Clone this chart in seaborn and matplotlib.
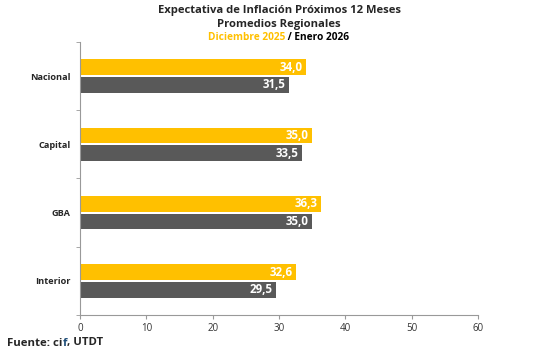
import matplotlib
matplotlib.use("Agg")
import matplotlib.pyplot as plt
import pandas as pd
import seaborn as sns

regiones = ["Nacional", "Capital", "GBA", "Interior"]
dic_2025 = [34.0, 35.0, 36.3, 32.6]
ene_2026 = [31.5, 33.5, 35.0, 29.5]
periodos = ["Diciembre 2025", "Enero 2026"]
xticks = [0, 10, 20, 30, 40, 50, 60]

df = pd.DataFrame({
    "region": regiones * 2,
    "valor": dic_2025 + ene_2026,
    "periodo": [periodos[0]] * 4 + [periodos[1]] * 4,
})

sns.set_style("white")
plt.rcParams["font.family"] = ["Open Sans", "DejaVu Sans"]

fig = plt.figure(figsize=(5.43, 3.54), dpi=100)
ax = fig.add_axes([80 / 543, 1 - 315 / 354, 398 / 543, 273 / 354])

sns.barplot(data=df, y="region", x="valor", hue="periodo", orient="h",
            palette=["#FFC000", "#595959"], saturation=1, width=0.52, gap=0.12,
            linewidth=0, legend=False, ax=ax)

for cont in ax.containers:
    for bar in cont:
        w = bar.get_width()
        ax.text(w - 0.5, bar.get_y() + bar.get_height() / 2,
                f"{w:.1f}".replace(".", ","), color="white", fontsize=8.3,
                fontweight="bold", ha="right", va="center")

ax.set_xlim(0, 60)
ax.set_ylim(3.5, -0.5)
ax.set_xticks(xticks)
ax.set_xticklabels([str(t) for t in xticks], fontsize=7, color="#333333")
ax.set_yticks(range(len(regiones)))
ax.set_yticklabels(regiones, fontsize=6.6, fontweight="bold")
ax.set_yticks([-0.5, 0.5, 1.5, 2.5, 3.5], minor=True)
ax.tick_params(axis="y", which="major", length=0, pad=7)
ax.tick_params(axis="y", which="minor", length=3, color="#999999", left=True)
ax.tick_params(axis="x", length=3, color="#999999", bottom=True, pad=3)
ax.set_xlabel("")
ax.set_ylabel("")
for s in ["top", "right"]:
    ax.spines[s].set_visible(False)
for s in ["left", "bottom"]:
    ax.spines[s].set_color("#999999")
    ax.spines[s].set_linewidth(0.8)

fig.text(279 / 543, 1 - 11 / 354, "Expectativa de Inflación Próximos 12 Meses",
         ha="center", va="center", fontsize=8.1, fontweight="bold")
fig.text(279 / 543, 1 - 24 / 354, "Promedios Regionales",
         ha="center", va="center", fontsize=8.1, fontweight="bold")
fig.text(285 / 543, 1 - 37 / 354, periodos[0], ha="right", va="center",
         fontsize=7.3, fontweight="bold", color="#FFC000")
fig.text(285 / 543, 1 - 37 / 354, " / " + periodos[1], ha="left", va="center",
         fontsize=7.3, fontweight="bold", color="black")

f1 = fig.text(7 / 543, 1 - 343 / 354, "Fuente: ci", ha="left", va="center",
              fontsize=8.2, fontweight="bold")
f2 = ax.annotate("f", xy=(1, 0), xycoords=f1, va="bottom", ha="left",
                 fontsize=8.2, fontweight="bold", color="#1F4E79")
ax.annotate(", UTDT", xy=(1, 0), xycoords=f2, va="bottom", ha="left",
            fontsize=8.2, fontweight="bold", annotation_clip=False)

fig.savefig("out.png", dpi=100)
